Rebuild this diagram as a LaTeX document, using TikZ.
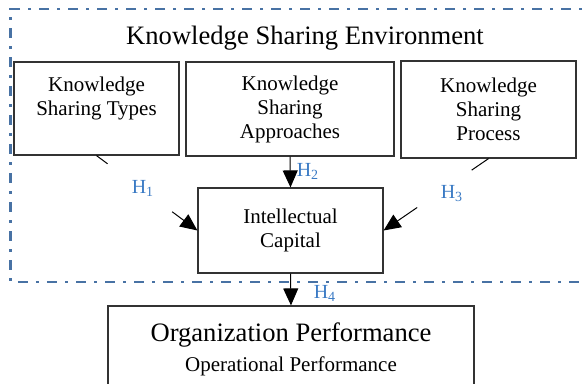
\documentclass[tikz,border=0pt]{standalone}
\usepackage{fontspec}
\setmainfont{Liberation Serif}
\usetikzlibrary{arrows.meta}
\definecolor{envblue}{RGB}{72,114,164}
\definecolor{hypblue}{RGB}{58,122,196}
\tikzset{
  kbox/.style={draw=black!80,line width=0.6pt,inner sep=0pt,align=center,font=\fontsize{10.5}{12}\selectfont},
  hyp/.style={text=hypblue,font=\fontsize{10}{12}\selectfont,inner sep=1pt},
  arr/.style={-{Triangle[length=8.5pt,width=7.5pt]},line width=0.5pt},
  envline/.style={draw=envblue,line width=1.3pt,dash pattern=on 5pt off 4pt on 1.5pt off 4pt}
}
\begin{document}
\begin{tikzpicture}[x=0.5pt,y=-0.5pt]
      \clip (0,0) rectangle (583,384);
      \draw[envline] (600,9) -- (10.5,9) -- (10.5,282) -- (600,282);
      \node[font=\fontsize{13.3}{16}\selectfont] (env) at (305,38) {Knowledge Sharing Environment};
      \node[kbox,minimum width=82.5pt,minimum height=46.5pt] (types) at (96.5,108.5) {Knowledge\\Sharing Types\\~};
      \node[kbox,minimum width=104pt,minimum height=47pt] (appr) at (290,109) {Knowledge\\Sharing\\Approaches};
      \node[kbox,minimum width=87.5pt,minimum height=48.5pt] (proc) at (488.5,109.5) {Knowledge\\Sharing\\Process};
      \node[kbox,minimum width=92.5pt,minimum height=42.5pt] (ic) at (290.5,230.5) {Intellectual\\Capital};
      \node[kbox,minimum width=183pt,minimum height=43pt] (perf) at (291,349) {{\fontsize{13.3}{16}\selectfont Organization Performance}\\[3pt]Operational Performance};
      % hypotheses
      \path (types.south) -- coordinate[pos=0.11] (h1a) coordinate[pos=0.75] (h1b) (ic.west);
      \path (proc.south) -- coordinate[pos=0.16] (h3a) coordinate[pos=0.68] (h3b) (ic.east);
      \draw[line width=0.5pt] (types.south) -- (h1a);
      \draw[arr] (h1b) -- (ic.west);
      \draw[line width=0.5pt] (proc.south) -- (h3a);
      \draw[arr] (h3b) -- (ic.east);
      \draw[arr] (appr.south) -- (ic.north);
      \draw[arr] (ic.south) -- (perf.north);
      \node[hyp] (h1) at (143,188) {H\textsubscript{1}};
      \node[hyp] (h2) at (308,171) {H\textsubscript{2}};
      \node[hyp] (h3) at (452,194) {H\textsubscript{3}};
      \node[hyp] (h4) at (325,293) {H\textsubscript{4}};
\end{tikzpicture}
\end{document}
